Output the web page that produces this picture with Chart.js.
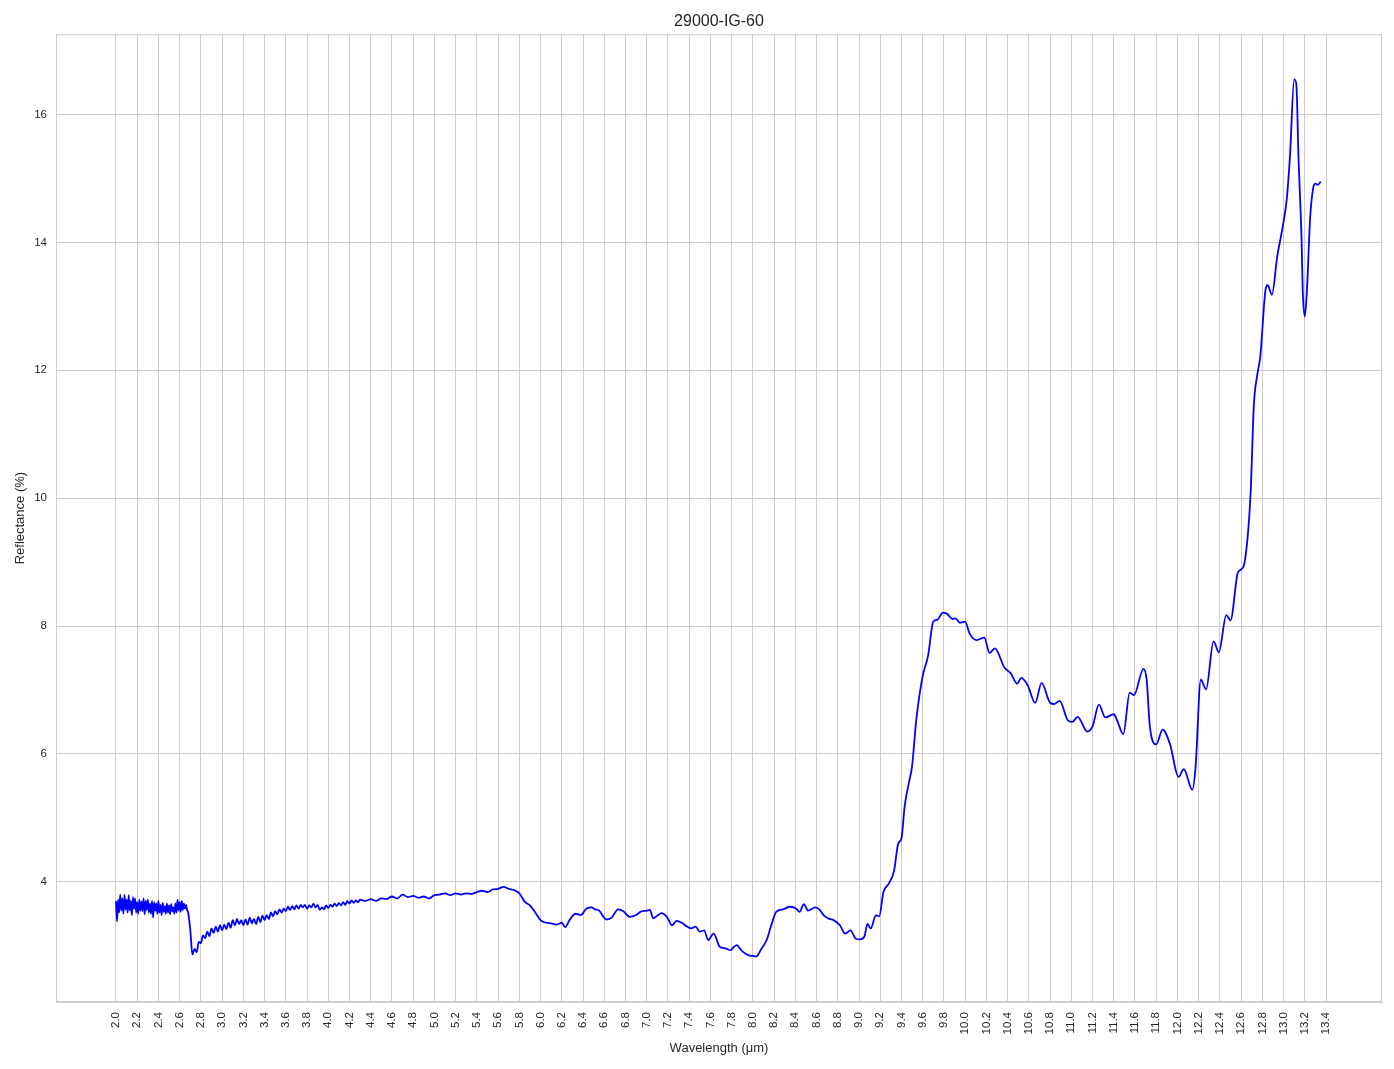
<!DOCTYPE html>
<html>
<head>
<meta charset="utf-8">
<script src="https://cdn.jsdelivr.net/npm/chart.js@4.4.1/dist/chart.umd.min.js"></script>
<style>
  html, body { margin: 0; padding: 0; background: #fff; }
  #wrap { width: 1394px; height: 1069px; }
</style>
</head>
<body>
<div id="wrap"><canvas id="myChart" width="1394" height="1069"></canvas></div>
<script>
// noisy start of the spectrum, 2.00 - 2.69 um
const wlA = [2.00,2.01,2.02,2.03,2.04,2.05,2.06,2.07,2.08,2.09,
             2.10,2.11,2.12,2.13,2.14,2.15,2.16,2.17,2.18,2.19,
             2.20,2.21,2.22,2.23,2.24,2.25,2.26,2.27,2.28,2.29,
             2.30,2.31,2.32,2.33,2.34,2.35,2.36,2.37,2.38,2.39,
             2.40,2.41,2.42,2.43,2.44,2.45,2.46,2.47,2.48,2.49,
             2.50,2.51,2.52,2.53,2.54,2.55,2.56,2.57,2.58,2.59,
             2.60,2.61,2.62,2.63,2.64,2.65,2.66,2.67,2.68,2.69];
const refA = [3.70,3.38,3.72,3.52,3.80,3.55,3.74,3.50,3.80,3.56,
              3.72,3.52,3.79,3.55,3.70,3.48,3.76,3.58,3.74,3.52,
              3.68,3.50,3.72,3.55,3.69,3.54,3.74,3.49,3.70,3.56,
              3.72,3.52,3.66,3.50,3.70,3.44,3.68,3.55,3.66,3.50,
              3.70,3.52,3.64,3.48,3.67,3.53,3.62,3.50,3.66,3.52,
              3.63,3.49,3.65,3.54,3.60,3.50,3.66,3.52,3.72,3.55,
              3.68,3.53,3.70,3.56,3.66,3.58,3.64,3.56,3.52,3.40];

// dip and slow rise, 2.70 - 4.30 um
const wlB = [2.70,2.72,2.74,2.76,2.78,2.80,2.82,2.84,2.86,2.88,
             2.90,2.92,2.94,2.96,2.98,3.00,3.02,3.04,3.06,3.08,
             3.10,3.12,3.14,3.16,3.18,3.20,3.22,3.24,3.26,3.28,
             3.30,3.32,3.34,3.36,3.38,3.40,3.42,3.44,3.46,3.48,
             3.50,3.52,3.54,3.56,3.58,3.60,3.62,3.64,3.66,3.68,
             3.70,3.72,3.74,3.76,3.78,3.80,3.82,3.84,3.86,3.88,
             3.90,3.92,3.94,3.96,3.98,4.00,4.02,4.04,4.06,4.08,
             4.10,4.12,4.14,4.16,4.18,4.20,4.22,4.24,4.26,4.28,4.30];
const refB = [3.25,2.86,2.95,2.90,3.06,3.04,3.16,3.12,3.22,3.15,
              3.27,3.20,3.30,3.22,3.32,3.24,3.33,3.26,3.36,3.28,
              3.40,3.32,3.42,3.34,3.40,3.32,3.41,3.33,3.44,3.35,
              3.42,3.34,3.45,3.37,3.47,3.40,3.48,3.42,3.52,3.46,
              3.54,3.49,3.57,3.52,3.58,3.54,3.61,3.56,3.62,3.57,
              3.63,3.58,3.64,3.60,3.64,3.58,3.63,3.60,3.66,3.60,
              3.64,3.56,3.60,3.57,3.63,3.59,3.64,3.61,3.66,3.62,
              3.67,3.63,3.68,3.64,3.70,3.66,3.71,3.67,3.71,3.68,3.72];

// smoother part, 4.35 - 13.35 um
const wlC = [4.35,4.40,4.45,4.50,4.55,4.60,4.65,4.70,4.75,4.80,
             4.85,4.90,4.95,5.00,5.05,5.10,5.15,5.20,5.25,5.30,
             5.35,5.40,5.45,5.50,5.55,5.60,5.65,5.70,5.75,5.80,
             5.85,5.90,5.95,6.00,6.05,6.10,6.15,6.20,6.23,6.28,
             6.33,6.38,6.43,6.48,6.51,6.55,6.62,6.67,6.73,6.78,
             6.84,6.90,6.94,7.00,7.03,7.06,7.10,7.14,7.19,7.24,
             7.28,7.33,7.38,7.42,7.46,7.50,7.54,7.58,7.63,7.69,
             7.74,7.79,7.82,7.85,7.88,7.91,7.96,8.00,8.03,8.08,
             8.13,8.17,8.22,8.285,8.35,8.41,8.44,8.48,8.52,8.59,
             8.63,8.67,8.72,8.76,8.82,8.87,8.92,8.97,9.01,9.05,
             9.08,9.11,9.16,9.19,9.23,9.28,9.33,9.37,9.40,9.43,
             9.47,9.50,9.54,9.60,9.65,9.70,9.74,9.79,9.83,9.88,
             9.91,9.95,10.00,10.04,10.11,10.18,10.23,10.28,10.37,10.43,
             10.49,10.53,10.59,10.66,10.72,10.80,10.84,10.89,10.97,11.01,
             11.06,11.15,11.20,11.26,11.32,11.40,11.43,11.49,11.55,11.59,
             11.68,11.71,11.74,11.80,11.86,11.93,12.01,12.06,12.14,12.17,
             12.22,12.27,12.34,12.39,12.46,12.50,12.57,12.62,12.66,12.69,
             12.72,12.75,12.78,12.83,12.85,12.89,12.94,12.99,13.03,13.06,
             13.10,13.12,13.14,13.17,13.18,13.20,13.22,13.25,13.28,13.30,
             13.32,13.35];
const refC = [3.70,3.73,3.70,3.74,3.73,3.77,3.74,3.80,3.76,3.78,
              3.75,3.77,3.74,3.79,3.80,3.82,3.79,3.82,3.80,3.82,
              3.81,3.84,3.86,3.84,3.88,3.89,3.92,3.89,3.87,3.82,
              3.69,3.63,3.52,3.40,3.36,3.35,3.33,3.36,3.29,3.42,
              3.50,3.48,3.58,3.60,3.57,3.55,3.41,3.44,3.57,3.54,
              3.45,3.48,3.53,3.55,3.56,3.43,3.47,3.51,3.45,3.32,
              3.39,3.36,3.30,3.27,3.30,3.22,3.24,3.09,3.19,2.98,
              2.96,2.93,2.98,3.01,2.95,2.90,2.85,2.84,2.83,2.95,
              3.09,3.30,3.53,3.57,3.61,3.58,3.53,3.65,3.55,3.60,
              3.56,3.47,3.42,3.40,3.32,3.19,3.24,3.11,3.10,3.14,
              3.34,3.27,3.48,3.46,3.84,3.97,4.17,4.60,4.68,5.18,
              5.55,5.81,6.54,7.22,7.53,8.07,8.10,8.21,8.19,8.11,
              8.12,8.05,8.07,7.89,7.78,7.82,7.58,7.65,7.35,7.26,
              7.10,7.19,7.07,6.80,7.11,6.80,6.78,6.83,6.52,6.50,
              6.58,6.35,6.43,6.77,6.57,6.62,6.53,6.31,6.96,6.92,
              7.33,7.16,6.43,6.15,6.38,6.15,5.64,5.76,5.44,5.78,
              7.16,7.01,7.76,7.59,8.17,8.09,8.84,8.92,9.37,10.11,
              11.46,11.91,12.21,13.26,13.33,13.18,13.78,14.23,14.68,15.35,
              16.55,16.47,15.35,14.00,13.26,12.84,13.26,14.38,14.86,14.92,
              14.90,14.95];

const xTicks = [2.0,2.2,2.4,2.6,2.8,3.0,3.2,3.4,3.6,3.8,4.0,4.2,4.4,4.6,4.8,
                5.0,5.2,5.4,5.6,5.8,6.0,6.2,6.4,6.6,6.8,7.0,7.2,7.4,7.6,7.8,
                8.0,8.2,8.4,8.6,8.8,9.0,9.2,9.4,9.6,9.8,10.0,10.2,10.4,10.6,10.8,
                11.0,11.2,11.4,11.6,11.8,12.0,12.2,12.4,12.6,12.8,13.0,13.2,13.4];
const yTicks = [4, 6, 8, 10, 12, 14, 16];

const wavelengths = wlA.concat(wlB, wlC);
const reflectance = refA.concat(refB, refC);
if (wavelengths.length !== reflectance.length) console.warn('length mismatch');

const FONT = "'Liberation Sans', Arial, sans-serif";
const TEXT = '#262626';
const GRID = '#cccccc';

// box around the plot area, and title centred over the plot area
const frame = {
    id: 'frame',
    afterLayout(chart) {
        const t = chart.titleBlock;
        if (t) {
            t.left = chart.chartArea.left;
            t.right = chart.chartArea.right;
            t.width = t.right - t.left;
        }
    },
    afterDraw(chart) {
        const a = chart.chartArea;
        const ctx = chart.ctx;
        ctx.save();
        ctx.strokeStyle = GRID;
        ctx.lineWidth = 1;
        ctx.strokeRect(a.left + 0.5, a.top + 0.5, a.right - a.left - 1, a.bottom - a.top - 1);
        ctx.restore();
    }
};

const ctx = document.getElementById('myChart').getContext('2d');
new Chart(ctx, {
    type: 'line',
    data: {
        datasets: [{
            label: '29000-IG-60',
            data: wavelengths.map((w, i) => ({ x: w, y: reflectance[i] })),
            borderColor: '#0000ff',
            borderWidth: 1.8,
            pointRadius: 0,
            fill: false,
            cubicInterpolationMode: 'monotone'
        }]
    },
    options: {
        responsive: false,
        animation: false,
        devicePixelRatio: 1,
        layout: { padding: { left: 0, right: 12, top: 0, bottom: 0 } },
        scales: {
            x: {
                type: 'linear',
                min: 1.435,
                max: 13.927,
                afterBuildTicks: s => { s.ticks = xTicks.map(v => ({ value: v })); },
                afterFit: s => { s.height = 67; },
                ticks: {
                    autoSkip: false,
                    minRotation: 90,
                    maxRotation: 90,
                    padding: 10,
                    color: TEXT,
                    font: { family: FONT, size: 11.5 },
                    callback: v => Number(v).toFixed(1)
                },
                grid: { color: GRID, lineWidth: 1, drawTicks: false },
                border: { color: GRID },
                title: {
                    display: true,
                    text: 'Wavelength (μm)',
                    color: TEXT,
                    font: { family: FONT, size: 13 },
                    padding: { top: 4, bottom: 13 }
                }
            },
            y: {
                min: 2.12,
                max: 17.256,
                afterBuildTicks: s => { s.ticks = yTicks.map(v => ({ value: v })); },
                afterFit: s => { s.width = 56; },
                ticks: {
                    padding: 9,
                    color: TEXT,
                    font: { family: FONT, size: 11.5 }
                },
                grid: { color: GRID, lineWidth: 1, drawTicks: false },
                border: { color: GRID },
                title: {
                    display: true,
                    text: 'Reflectance (%)',
                    color: TEXT,
                    font: { family: FONT, size: 13 },
                    padding: { top: 13, bottom: 4 }
                }
            }
        },
        plugins: {
            legend: { display: false },
            tooltip: { enabled: false },
            title: {
                display: true,
                text: '29000-IG-60',
                color: TEXT,
                font: { family: FONT, size: 16, weight: 'normal' },
                padding: { top: 12, bottom: 3 }
            }
        }
    },
    plugins: [frame]
});
</script>
</body>
</html>
